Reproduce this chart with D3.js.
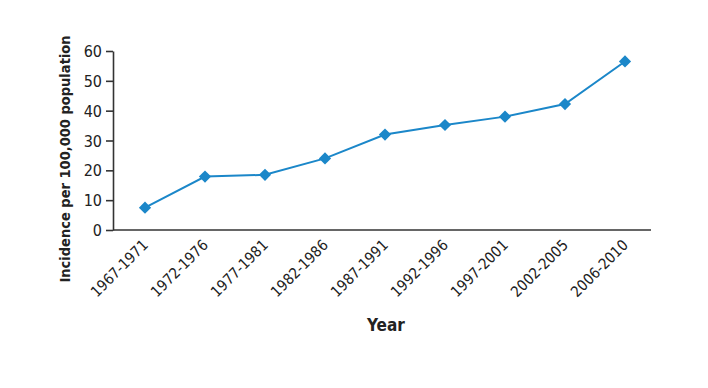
<!DOCTYPE html>
<html>
<head>
<meta charset="utf-8">
<script src="https://cdn.jsdelivr.net/npm/d3@7"></script>
<style>
  body { margin: 0; background: #fff; }
  text { font-family: "Liberation Sans Narrow", "DejaVu Sans Condensed", "Open Sans", sans-serif; fill: #222; }
</style>
</head>
<body>
<div id="chart"></div>
<script>
// Periods and incidence values
const periods = ["1967-1971", "1972-1976", "1977-1981", "1982-1986", "1987-1991",
                 "1992-1996", "1997-2001", "2002-2005", "2006-2010"];
const incidence = [7.5, 17.9, 18.5, 24, 32, 35.2, 38, 42.2, 56.5];
const yTicks = [0, 10, 20, 30, 40, 50, 60];

const width = 708, height = 388;
const svg = d3.select("#chart").append("svg")
    .attr("width", width)
    .attr("height", height);

const axisLeft = 113, axisRight = 651, plotTop = 51, plotBottom = 230;

const x = d3.scalePoint()
    .domain(periods)
    .range([145, 625]);

const y = d3.scaleLinear()
    .domain([0, 60])
    .range([plotBottom, plotTop]);

// y axis
const yAxis = svg.append("g")
    .attr("transform", `translate(${axisLeft},0)`)
    .call(d3.axisLeft(y).tickValues(yTicks).tickSize(7).tickSizeOuter(0).tickPadding(4));
yAxis.select(".domain").attr("stroke", "#333").attr("stroke-width", 1.6);
yAxis.selectAll(".tick line").attr("stroke", "#333").attr("stroke-width", 1.6);
yAxis.selectAll(".tick text").style("font-size", "16px").attr("dy", "0.35em");

// x axis line
svg.append("line")
    .attr("x1", axisLeft).attr("x2", axisRight)
    .attr("y1", plotBottom).attr("y2", plotBottom)
    .attr("stroke", "#333").attr("stroke-width", 1.6);

// x labels, rotated
svg.append("g")
    .selectAll("text")
    .data(periods)
    .enter()
    .append("text")
    .attr("transform", d => `translate(${x(d) + 4},${plotBottom + 16}) rotate(-45)`)
    .attr("text-anchor", "end")
    .style("font-size", "15px")
    .text(d => d);

// line
const line = d3.line()
    .x((d, i) => x(periods[i]))
    .y(d => y(d));

svg.append("path")
    .datum(incidence)
    .attr("d", line)
    .attr("fill", "none")
    .attr("stroke", "#1b87c9")
    .attr("stroke-width", 2);

// diamond markers
svg.append("g")
    .selectAll("path")
    .data(incidence)
    .enter()
    .append("path")
    .attr("d", d3.symbol().type(d3.symbolDiamond2).size(95))
    .attr("transform", (d, i) => `translate(${x(periods[i])},${y(d)})`)
    .attr("fill", "#1b87c9");

// axis titles
svg.append("text")
    .attr("transform", "translate(70,159) rotate(-90)")
    .attr("text-anchor", "middle")
    .style("font-size", "14.5px")
    .style("font-weight", "bold")
    .text("Incidence per 100,000 population");

svg.append("text")
    .attr("x", 386)
    .attr("y", 331)
    .attr("text-anchor", "middle")
    .style("font-size", "17px")
    .style("font-weight", "bold")
    .text("Year");
</script>
</body>
</html>
